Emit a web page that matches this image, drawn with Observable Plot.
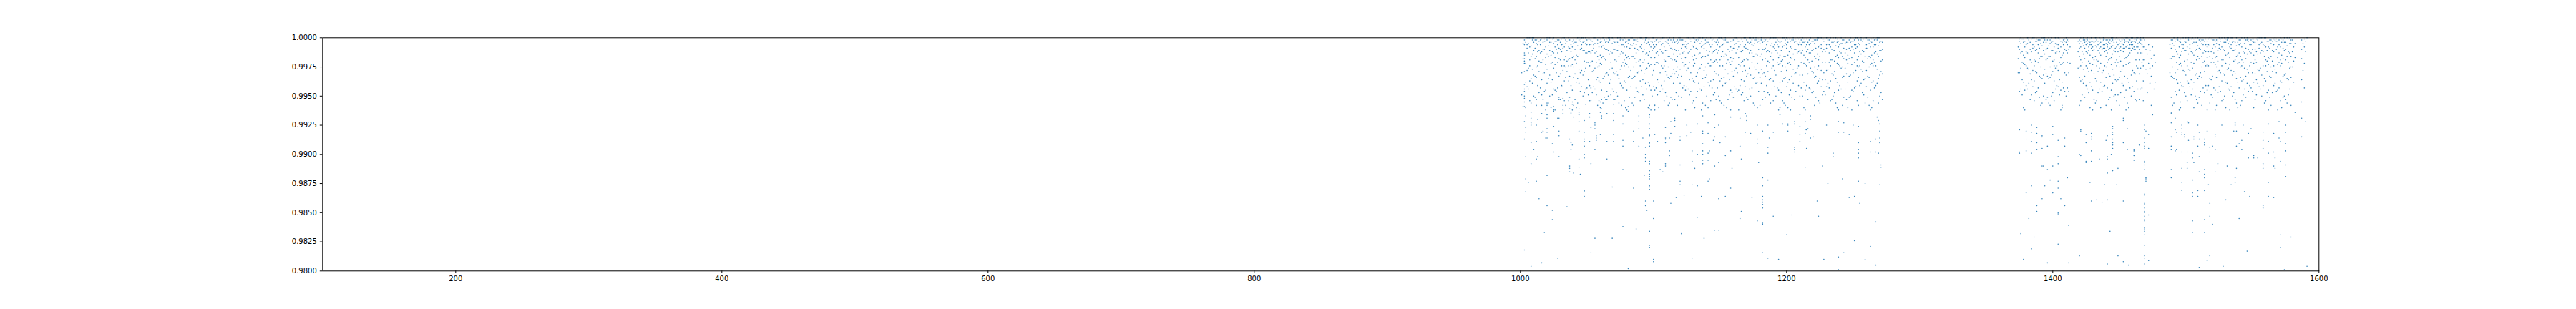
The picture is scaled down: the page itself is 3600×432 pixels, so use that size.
<!DOCTYPE html>
<html><head><meta charset="utf-8">
<script src="https://cdn.jsdelivr.net/npm/d3@7"></script>
<script src="https://cdn.jsdelivr.net/npm/@observablehq/plot@0.6"></script>
<style>html,body{margin:0;padding:0;background:#fff}</style>
</head><body><div id="chart"></div>
<script>
// Tick values
const xTicks = [200, 400, 600, 800, 1000, 1200, 1400, 1600];
const yTicks = [0.98, 0.9825, 0.985, 0.9875, 0.99, 0.9925, 0.995, 0.9975, 1.0];

// Each entry: [x, shortfalls below 1.0 in units of 0.0001]
const clusterA = [
[1001,[30,49]],[1002,[5,18,59]],[1003,[2,6,13,15,18,20,22,29,40,44,46,50,52,55,59,72,87,182]],
[1004,[1,4,15,22,38,60,67,77,81,102,121,132]],[1005,[0,6,9,28,42]],[1006,[0,5,13,26,44,124]],
[1007,[0,8,19,24,37,54]],[1008,[0,7,16,35,56,64,69,73,75,90,98,108,196]],[1009,[0,2,14,27,39]],
[1010,[0,4,11,32,50,96]],[1011,[2,9,18,33,51]],[1012,[2,5,16,25,34,53,58,75,89,104,123]],
[1013,[1,6,12,24,41,70,102]],[1014,[3,11,20,29,47,138]],[1015,[2,6,13,21,43]],
[1016,[1,12,21,36,49,58,65,81,193]],[1017,[4,10,19,31,53,80]],[1018,[1,3,10,30,46,167]],
[1019,[3,8,17,23,45,62,86]],[1020,[0,2,14,27,39,56,58,66,69,78,81,86,118,144]],[1021,[0,7,16,35,56]],
[1022,[0,4,11,32,50]],[1023,[1,4,15,22,38,60]],[1024,[1,12,21,36,49,91,148,156]],
[1025,[0,5,13,26,44,59,62,63,76,98]],[1026,[3,8,17,23,45,62]],[1027,[1,3,10,30,46]],
[1028,[2,6,13,21,43,69,189]],[1029,[2,9,18,33,51,53,69,80,84,102]],[1030,[4,10,19,31,53]],
[1031,[1,6,12,24,41]],[1032,[0,6,9,28,42,52,58,62,65]],[1033,[0,8,19,24,37,54]],
[1034,[2,5,16,25,34,58]],[1035,[3,11,20,29,47,145]],[1036,[0,8,19,24,37,54]],
[1037,[2,9,18,33,51,61,87,110,112,115]],[1038,[1,6,12,24,41,64,65,90,96,98]],[1039,[3,8,17,23,45,55,57,62,92]],
[1040,[2,5,16,25,34,58,68,116]],[1041,[4,10,19,31,53]],[1042,[1,4,15,22,38,60]],
[1043,[0,7,16,35,56]],[1044,[0,2,14,27,39,61,64,66,72,80,104,111]],[1045,[1,3,10,30,46,117]],
[1046,[0,6,9,28,42]],[1047,[0,4,11,32,50]],[1048,[3,11,20,29,47,71,81,87,89,93,100,103,131,132,136]],
[1049,[0,5,13,26,44,57]],[1050,[2,6,13,21,43]],[1051,[1,12,21,36,49]],
[1052,[1,6,12,24,41,54,65,68,89]],[1053,[2,6,13,21,43,54,77,108,184]],[1054,[3,11,20,29,47]],
[1055,[0,6,9,28,42]],[1056,[0,5,13,26,44,73,75,78,96,172]],[1057,[1,12,21,36,49,84,86,88]],
[1058,[2,5,16,25,34,58]],[1059,[0,8,19,24,37,54]],[1060,[1,4,15,22,38,55,60,64,83]],
[1061,[3,8,17,23,45,53,61,67,69]],[1062,[0,7,16,35,56]],[1063,[2,9,18,33,51]],
[1064,[4,10,19,31,53]],[1065,[1,3,10,30,46,53,65,89,104]],[1066,[0,4,11,32,50]],
[1067,[0,2,14,27,39]],[1068,[1,12,21,36,49]],[1069,[0,5,13,26,44,128,172]],
[1070,[1,3,10,30,46,53,57,65,71,83,89]],[1071,[4,10,19,31,53]],[1072,[3,11,20,29,47]],
[1073,[0,4,11,32,50]],[1074,[0,7,16,35,56]],[1075,[0,2,14,27,39]],
[1076,[1,6,12,24,41,58]],[1077,[2,6,13,21,43,67,74,88,93,113,162]],[1078,[0,8,19,24,37,54]],
[1079,[1,4,15,22,38,60]],[1080,[3,8,17,23,45,62]],[1081,[2,5,16,25,34,59,63,198]],
[1082,[2,9,18,33,51]],[1083,[0,6,9,28,42]],[1084,[0,7,16,35,56]],
[1085,[2,5,16,25,34,58,80,89,129]],[1086,[2,9,18,33,51]],[1087,[2,6,13,21,43,164]],
[1088,[1,3,10,30,46]],[1089,[3,11,20,29,47,67,72,78,93]],[1090,[0,8,19,24,37,54]],
[1091,[0,6,9,28,42]],[1092,[1,12,21,36,49,86]],[1093,[4,10,19,31,53,118]],
[1094,[0,2,14,27,39,94,100,103,106,140,144]],[1095,[0,5,13,26,44,148]],[1096,[1,4,15,22,38,60]],
[1097,[1,6,12,24,41,58,61,66,68,74,78,83,84,90,91,93,106,108,114,117,119,121,127,128,130,166,178,180]],
[1098,[3,8,17,23,45,62]],[1099,[0,4,11,32,50]],[1100,[0,6,9,28,42,140,155,190,192]],
[1101,[3,8,17,23,45,57,58,62,83]],[1102,[2,6,13,21,43]],[1103,[1,12,21,36,49,89]],
[1104,[1,4,15,22,38,60]],[1105,[1,3,10,30,46,113]],[1106,[1,6,12,24,41]],
[1107,[0,5,13,26,44,115]],[1108,[0,8,19,24,37,54]],[1109,[3,11,20,29,47,77,86,87,90,108,110]],
[1110,[0,4,11,32,50]],[1111,[2,5,16,25,34,58]],[1112,[0,7,16,35,56,86,97,101]],
[1113,[2,9,18,33,51,72,82,142]],[1114,[4,10,19,31,53]],[1115,[0,2,14,27,39]],
[1116,[4,10,19,31,53,69,71,76]],[1117,[3,11,20,29,47,137]],[1118,[2,5,16,25,34,58]],
[1119,[0,4,11,32,50]],[1120,[0,2,14,27,39,85,88,109,123,126]],[1121,[2,9,18,33,51,168]],
[1122,[2,6,13,21,43]],[1123,[1,6,12,24,41,135]],[1124,[3,8,17,23,45,62]],
[1125,[0,6,9,28,42,75,84]],[1126,[0,5,13,26,44]],[1127,[1,12,21,36,49]],
[1128,[1,3,10,30,46,81]],[1129,[0,7,16,35,56,97,98,106,126,189]],[1130,[0,8,19,24,37,54]],
[1131,[1,4,15,22,38,60,112]],[1132,[2,9,18,33,51]],[1133,[1,3,10,30,46,74,100,127,154]],
[1134,[0,2,14,27,39]],[1135,[0,5,13,26,44]],[1136,[3,8,17,23,45,62,136]],
[1137,[0,7,16,35,56,67,80,82,91,97,100,105,108]]
];

const clusterB = [
[1138,[0,6,9,28,42,172]],[1139,[2,5,16,25,34,58]],[1140,[0,4,11,32,50]],
[1141,[1,4,15,22,38,60,73,82,99,105,123]],[1142,[1,6,12,24,41,97,98,121]],[1143,[0,8,19,24,37,54]],
[1144,[2,6,13,21,43]],[1145,[1,12,21,36,49,88]],[1146,[3,11,20,29,47,66,77,85,110,165]],
[1147,[4,10,19,31,53]],[1148,[2,6,13,21,43]],[1149,[0,4,11,32,50,75,107,138,165]],
[1150,[0,8,19,24,37,54,90]],[1151,[0,7,16,35,56]],[1152,[1,6,12,24,41]],
[1153,[2,5,16,25,34,58]],[1154,[0,2,14,27,39,85,101,136]],[1155,[1,4,15,22,38,60]],
[1156,[4,10,19,31,53]],[1157,[1,12,21,36,49]],[1158,[3,8,17,23,45,62,68,97,129]],
[1159,[3,11,20,29,47,112]],[1160,[2,9,18,33,51]],[1161,[0,6,9,28,42]],
[1162,[0,5,13,26,44]],[1163,[1,3,10,30,46]],[1164,[3,8,17,23,45,62]],
[1165,[1,6,12,24,41,69,93,155]],[1166,[1,12,21,36,49,104,149]],[1167,[3,11,20,29,47]],
[1168,[0,8,19,24,37,54]],[1169,[0,6,9,28,42,65,81]],[1170,[2,9,18,33,51,67,71]],
[1171,[4,10,19,31,53]],[1172,[0,5,13,26,44]],[1173,[0,4,11,32,50,82]],
[1174,[2,6,13,21,43,137]],[1175,[0,7,16,35,56]],[1176,[2,5,16,25,34,58]],
[1177,[0,2,14,27,39]],[1178,[1,4,15,22,38,60,75,87,91,157]],[1179,[1,3,10,30,46,107]],
[1180,[2,5,16,25,34,58]],[1181,[0,2,14,27,39]],[1182,[4,10,19,31,53,80,120,127,136,139,141,143,146,159,160,184]],
[1183,[1,3,10,30,46]],[1184,[2,9,18,33,51]],[1185,[1,6,12,24,41]],
[1186,[3,11,20,29,47,75,94,99,122,189]],[1187,[1,12,21,36,49,86]],[1188,[0,7,16,35,56]],
[1189,[0,5,13,26,44]],[1190,[0,8,19,24,37,54,81,153]],[1191,[0,6,9,28,42]],
[1192,[0,4,11,32,50]],[1193,[2,6,13,21,43]],[1194,[3,8,17,23,45,62,190]],
[1195,[1,4,15,22,38,60,66]],[1196,[3,11,20,29,47]],[1197,[0,8,19,24,37,54,74]],
[1198,[0,7,16,35,56]],[1199,[2,5,16,25,34,58]],[1200,[0,6,9,28,42,169]],
[1201,[1,4,15,22,38,60,74,75,80]],[1202,[1,12,21,36,49]],[1203,[3,8,17,23,45,62]],
[1204,[2,9,18,33,51,152]],[1205,[0,2,14,27,39]],[1206,[4,10,19,31,53,72,74,94,96,98]],
[1207,[1,3,10,30,46]],[1208,[0,5,13,26,44]],[1209,[1,6,12,24,41]],
[1210,[0,4,11,32,50,66,76,83,89]],[1211,[2,6,13,21,43]],[1212,[0,4,11,32,50]],
[1213,[1,4,15,22,38,60]],[1214,[3,8,17,23,45,62,72,79,82,111]],[1215,[1,6,12,24,41,79,95]],
[1216,[4,10,19,31,53,78]],[1217,[2,6,13,21,43]],[1218,[0,5,13,26,44,67,70,86]],
[1219,[3,11,20,29,47]],[1220,[1,3,10,30,46,85]],[1221,[2,5,16,25,34,58]],
[1222,[2,9,18,33,51]],[1223,[0,2,14,27,39,140]],[1224,[0,8,19,24,37,54,153]],
[1225,[0,7,16,35,56]],[1226,[0,6,9,28,42]],[1227,[1,12,21,36,49,110]],
[1228,[1,3,10,30,46,190]],[1229,[1,12,21,36,49]],[1230,[0,6,9,28,42,75]],
[1231,[0,2,14,27,39,125]],[1232,[2,6,13,21,43]],[1233,[0,8,19,24,37,54]],
[1234,[4,10,19,31,53]],[1235,[0,4,11,32,50,99,102]],[1236,[3,11,20,29,47]],
[1237,[0,7,16,35,56]],[1238,[1,4,15,22,38,60]],[1239,[3,8,17,23,45,62,72,81,188,199]],
[1240,[1,6,12,24,41]],[1241,[0,5,13,26,44]],[1242,[2,5,16,25,34,58,121]],
[1243,[2,9,18,33,51,73,81,184]],[1244,[0,5,13,26,44]],[1245,[4,10,19,31,53]],
[1246,[1,4,15,22,38,60]],[1247,[2,9,18,33,51,83,137]],[1248,[0,4,11,32,50]],
[1249,[3,8,17,23,45,62]],[1250,[1,3,10,30,46,75]],[1251,[2,6,13,21,43,136,174]],
[1252,[0,6,9,28,42]],[1253,[0,8,19,24,37,54]],[1254,[2,5,16,25,34,58,76,90,96,99,103,123]],
[1255,[1,6,12,24,41,142]],[1256,[0,2,14,27,39]],[1257,[3,11,20,29,47]],
[1258,[1,12,21,36,49]],[1259,[0,7,16,35,56,125,190]],[1260,[0,6,9,28,42]],
[1261,[2,9,18,33,51]],[1262,[2,5,16,25,34,58]],[1263,[3,8,17,23,45,62,89,98,179]],
[1264,[1,4,15,22,38,60]],[1265,[0,8,19,24,37,54]],[1266,[2,6,13,21,43]],
[1267,[1,6,12,24,41,87,98,158,195]],[1268,[0,2,14,27,39,68]],[1269,[0,7,16,35,56,71,99]],
[1270,[0,4,11,32,50,74,80,86,90,126]],[1271,[3,11,20,29,47,109,111]],[1272,[4,10,19,31,53]]
];

const clusterC = [
[1374,[8,18,30]],[1375,[1,3,10,30,46,79,98,99]],[1376,[0,5,13,26,44,168]],
[1377,[1,12,21,36,49]],[1378,[1,4,15,22,38,60,190]],[1379,[3,8,17,23,45,62]],
[1380,[1,6,12,24,41,80,87,97,133]],[1381,[0,5,13,26,44]],[1382,[0,2,14,27,39,155]],
[1383,[4,10,19,31,53]],[1384,[1,12,21,36,49,75,81,89,99,127,181]],[1385,[0,6,9,28,42]],
[1386,[0,8,19,24,37,54,171]],[1387,[3,11,20,29,47]],[1388,[1,3,10,30,46,77,82,90,96,144,149]],
[1389,[2,6,13,21,43]],[1390,[2,9,18,33,51]],[1391,[2,5,16,25,34,58]],
[1392,[0,7,16,35,56,84,85,95,110,138]],[1393,[0,4,11,32,50,110]],[1394,[0,2,14,27,39,127]],
[1395,[4,10,19,31,53]],[1396,[2,9,18,33,51,93,113,193]],[1397,[0,7,16,35,56]],
[1398,[2,5,16,25,34,58,122]],[1399,[0,4,11,32,50]],[1400,[3,11,20,29,47,76,83,110,133]],
[1401,[0,8,19,24,37,54]],[1402,[0,5,13,26,44]],[1403,[1,6,12,24,41]],
[1404,[0,6,9,28,42,88,102,108,123,129,150,151,177]],[1405,[1,12,21,36,49]],[1406,[3,8,17,23,45,62,138]],
[1407,[1,4,15,22,38,58,60]],[1408,[2,6,13,21,43]],[1409,[1,3,10,30,46,86,93,144]],
[1410,[0,4,11,32,50]],[1411,[2,6,13,21,43,120]],[1412,[1,3,10,30,46,161,193]],
[1413,[8,22]],[1419,[3,12,26]],
[1420,[2,5,9,16,25,34,58,100,187]],[1421,[0,3,8,19,24,37,54,79,80,101]],[1422,[1,5,12,21,36,49]],
[1423,[0,2,7,14,27,39]],[1424,[2,4,9,18,33,51]],[1425,[1,3,6,12,24,41,83,90,106,107]],
[1426,[0,2,5,13,26,44]],[1427,[3,8,11,20,29,47]],[1428,[1,4,6,15,22,38,60,124]],
[1429,[0,3,6,9,28,42,82,85,87,97,106,140]],[1430,[3,8,11,17,23,45,62]],[1431,[1,4,10,19,31,53]],
[1432,[0,3,7,16,35,56]],[1433,[0,2,8,19,24,37,54,139]],[1434,[3,6,11,20,29,47]],
[1435,[0,5,9,13,26,44,104]],[1436,[1,4,8,15,22,38,60]],[1437,[1,3,7,10,30,46,141]],
[1438,[0,2,6,9,28,42]],[1439,[1,6,9,12,24,41,126]],[1440,[2,5,11,16,25,34,58,88]],
[1441,[2,6,8,13,21,43,84,102,104,116,139,194]],[1442,[1,4,10,19,31,53]],[1443,[2,5,9,18,33,51,166]],
[1444,[0,3,8,17,23,45,62,100]],[1445,[0,2,7,14,27,39,76,78,81,83,87,90,92,95,114]],[1446,[0,4,7,11,32,50]],
[1447,[1,9,12,21,36,49]],[1448,[0,4,8,19,24,37,54,126]],[1449,[1,6,12,21,36,49,112,187]],
[1450,[2,5,9,16,25,34,58]],[1451,[3,8,11,20,29,47]],[1452,[0,2,5,14,27,39]],
[1453,[1,6,9,12,24,41,69,71,90,140,192]],[1454,[2,4,9,18,33,51]],[1455,[0,3,8,17,23,45,62]],
[1456,[0,3,7,16,35,56,78,96]],[1457,[1,4,9,15,22,38,60,195]],[1458,[2,6,9,13,21,43]],
[1459,[0,4,6,11,32,50]],[1460,[0,3,6,9,28,42]],[1461,[1,3,8,10,30,46,96,97,101,105]],
[1462,[1,4,10,19,31,53]],[1463,[0,2,8,19,24,37,54]],[1464,[0,5,8,13,26,44]],
[1465,[1,4,10,19,31,53,92]],[1466,[0,2,5,13,26,44]],[1467,[2,6,13,21,43]],
[1468,[0,8,19,24,37,54]],
[1469,[2,8,19,75,79,86,90,93,95,106,107,109,113,134,135,142,143,146,149,150,153,156,157,163,164,166,169,178,187,189,194]],
[1470,[10,27,80,120,121,123]],[1471,[14,31,47]],[1472,[6,22,83,95,152,191]],
[1473,[11,26,39]],[1474,[18,33,58]],[1475,[8,24,66]],[1476,[15,44]],[1477,[21,38]]
];

const clusterD = [
[1488,[6,18,30,44]],[1489,[2,9,18,33,51,64,65,73,85,93,96,113,120]],[1490,[2,5,16,25,34,58]],
[1491,[0,7,16,35,56]],[1492,[1,3,10,30,46,69,79,97]],[1493,[1,12,21,36,49,81,96]],
[1494,[0,2,14,27,39]],[1495,[3,8,17,23,45,62]],[1496,[1,4,15,22,38,55,60]],
[1497,[1,6,12,24,41,75,78,81,83,98,112,124,131]],[1498,[0,6,9,28,42]],[1499,[3,11,20,29,47,83,85]],
[1500,[0,4,11,32,50]],[1501,[0,8,19,24,37,54,72,98,107,112]],[1502,[0,2,14,27,39,73,88]],
[1503,[0,6,9,28,42]],[1504,[1,12,21,36,49]],[1505,[0,5,13,26,44,99,103,122,133,136,157,167]],
[1506,[1,4,15,22,38,60,85,87,107]],[1507,[0,4,11,32,50]],[1508,[4,10,19,31,53]],
[1509,[0,7,16,35,56,75,93,131,136]],[1510,[2,9,18,33,51,81,87,102,115,197]],[1511,[1,3,10,30,46]],
[1512,[2,5,16,25,34,58]],[1513,[2,6,13,21,43]],[1514,[3,11,20,29,47,87,90,92,113,117,120,131,156,167]],
[1515,[1,6,12,24,41]],[1516,[3,8,17,23,45,62,80,191]],[1517,[1,6,12,24,41,126]],
[1518,[0,7,16,35,56,94,98,142,153,187]],[1519,[1,12,21,36,49]],[1520,[2,9,18,33,51,93,160]],
[1521,[2,6,13,21,43]],[1522,[3,8,17,23,45,62,83,85,96,115]],[1523,[2,5,16,25,34,58]],
[1524,[3,11,20,29,47,108]],[1525,[0,6,9,28,42]],[1526,[1,3,10,30,46]],
[1527,[0,8,19,24,37,54,75]],[1528,[4,10,19,31,53,196]],[1529,[0,4,11,32,50]],
[1530,[1,4,15,22,38,60,139]],[1531,[0,2,14,27,39,110]],[1532,[0,5,13,26,44]],
[1533,[3,8,17,23,45,62]],[1534,[0,6,9,28,42,126]],[1535,[0,4,11,32,50]],
[1536,[3,11,20,29,47,80]],[1537,[4,10,19,31,53,73,75,120,124]],[1538,[0,7,16,35,56,80,93,112]],
[1539,[1,4,15,22,38,60]],[1540,[2,6,13,21,43,91,155]],[1541,[2,5,16,25,34,58]],
[1542,[0,8,19,24,37,54,88,96]],[1543,[1,12,21,36,49,75]],[1544,[0,5,13,26,44,132]],
[1545,[2,9,18,33,51]],[1546,[0,2,14,27,39,183]],[1547,[1,3,10,30,46,82,103]],
[1548,[1,6,12,24,41,136]],[1549,[2,6,13,21,43,78]],[1550,[1,3,10,30,46]],
[1551,[1,4,15,22,38,60,101,103]],[1552,[4,10,19,31,53]],[1553,[1,12,21,36,49]],
[1554,[0,2,14,27,39,103]],[1555,[0,6,9,28,42]],[1556,[0,5,13,26,44]],
[1557,[0,4,11,32,50]],[1558,[1,6,12,24,41,81,88,95,108,109,112,144,146]],[1559,[0,7,16,35,56]],
[1560,[0,8,19,24,37,54]],[1561,[3,11,20,29,47]],[1562,[3,8,17,23,45,62,74,89,99,124,136]],
[1563,[2,9,18,33,51]],[1564,[2,5,16,25,34,58]],[1565,[3,11,20,29,47]],
[1566,[1,6,12,24,41,82,98,110,137]],[1567,[0,2,14,27,39,103,112]],[1568,[1,3,10,30,46]],
[1569,[3,8,17,23,45,62]],[1570,[2,6,13,21,43,72,86]],[1571,[0,8,19,24,37,54,89,106,169,180]],
[1572,[1,4,15,22,38,60]],[1573,[2,9,18,33,51]],[1574,[0,4,11,32,50,199]],
[1575,[4,10,19,31,53,75,81,91,97,109,119]],[1576,[0,7,16,35,56]],[1577,[1,12,21,36,49]],
[1578,[0,5,13,26,44]],[1579,[2,5,16,25,34,58,171]],[1580,[2,12,25]],[1581,[8,20,38]],
[1582,[5,17,64]],[1587,[2,10,18,36,55,69,85]],[1588,[5,14,28]],
[1589,[1,8,22,43]],[1590,[3,12,72]],[1591,[0,196]]
];

// Flatten into a table for Plot (shortfall unit 0.0001 -> value)
const points = [];
for (const cluster of [clusterA, clusterB, clusterC, clusterD]) {
  for (const [x, shortfalls] of cluster) {
    for (const s of shortfalls) points.push({x, y: 1 - s / 10000});
  }
}

const chart = Plot.plot({
  width: 3600,
  height: 432,
  marginLeft: 450.3,
  marginRight: 359.7,
  marginTop: 52.3,
  marginBottom: 53.7,
  style: {fontFamily: "DejaVu Sans, sans-serif", fontSize: "10px", color: "#000", background: "#fff", overflow: "visible"},
  x: {domain: [100, 1600], ticks: xTicks, tickFormat: d => String(d), tickSize: 3.5, tickPadding: 3.5, label: null},
  y: {domain: [0.98, 1.0], ticks: yTicks, tickFormat: d3.format(".4f"), tickSize: 3.5, tickPadding: 4.5, label: null},
  marks: [
    Plot.dot(points, {x: "x", y: "y", r: 0.8, fill: "#1f77b4", fillOpacity: 0.9, stroke: "none"}),
    Plot.frame({stroke: "#000", strokeWidth: 1})
  ]
});
document.getElementById("chart").appendChild(chart);
</script>
</body></html>
